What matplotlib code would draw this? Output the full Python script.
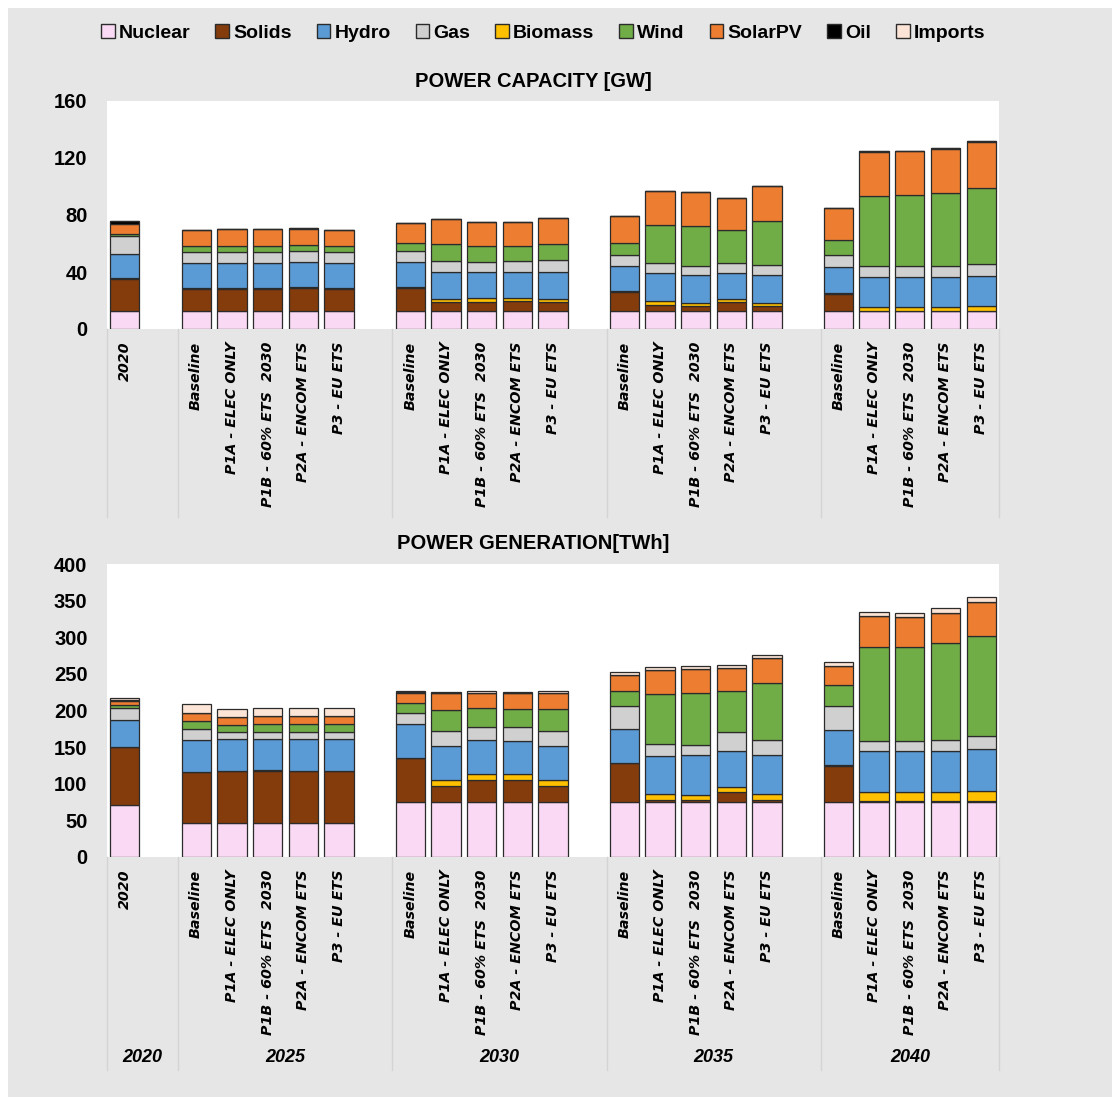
import matplotlib
matplotlib.use("Agg")
import matplotlib.pyplot as plt
from matplotlib.patches import Rectangle, Patch

plt.rcParams['font.family'] = ['Liberation Sans', 'DejaVu Sans']

# fuels, bottom-to-top stacking order
fuels = ['Nuclear', 'Solids', 'Biomass', 'Hydro', 'Gas', 'Wind', 'SolarPV', 'Oil', 'Imports']
legend_order = ['Nuclear', 'Solids', 'Hydro', 'Gas', 'Biomass', 'Wind', 'SolarPV', 'Oil', 'Imports']
colors = {'Nuclear': '#f9d9f3', 'Solids': '#843c0c', 'Hydro': '#5b9bd5', 'Gas': '#d0d0d0',
          'Biomass': '#ffc000', 'Wind': '#70ad47', 'SolarPV': '#ed7d31', 'Oil': '#000000',
          'Imports': '#fce4d6'}

years = ['2020', '2025', '2030', '2035', '2040']
scenarios = ['Baseline', 'P1A - ELEC ONLY', 'P1B - 60% ETS  2030', 'P2A - ENCOM ETS', 'P3 - EU ETS']
bar_labels = ['2020'] + scenarios * 4

# Capacity [GW], one row per bar: 2020, then 5 scenarios for each of 2025..2040
# columns follow `fuels`
capacity = [
    [12.3, 23.0, 0.8, 16.7, 12.4, 1.8, 6.5, 2.0, 0],
    [12.3, 16.0, 0.6, 17.4, 8.0, 4.0, 11.2, 0.3, 0],
    [12.3, 16.0, 0.6, 17.4, 8.0, 4.0, 11.6, 0.3, 0],
    [12.3, 16.0, 0.6, 17.4, 8.0, 4.0, 11.6, 0.3, 0],
    [12.3, 16.7, 0.6, 17.3, 8.0, 4.0, 11.6, 0.4, 0],
    [12.3, 16.0, 0.6, 17.4, 8.0, 4.0, 11.2, 0.3, 0],
    [12.3, 16.7, 0.6, 17.7, 7.5, 5.5, 14.0, 0.3, 0],
    [12.3, 6.9, 1.8, 18.7, 7.7, 12.4, 17.2, 0.3, 0],
    [12.3, 6.9, 2.3, 18.2, 7.5, 11.2, 16.4, 0.3, 0],
    [12.3, 7.1, 2.1, 18.2, 8.2, 10.0, 16.9, 0.3, 0],
    [12.3, 6.9, 1.8, 18.7, 8.9, 11.4, 17.8, 0.3, 0],
    [12.3, 13.7, 0.5, 17.5, 8.0, 8.3, 18.7, 0.3, 0],
    [12.3, 4.7, 2.4, 20.1, 6.5, 26.7, 23.8, 0.3, 0],
    [12.3, 3.6, 2.3, 19.7, 6.5, 27.8, 23.6, 0.3, 0],
    [12.3, 6.7, 2.0, 18.0, 7.5, 22.9, 22.2, 0.3, 0],
    [12.3, 4.1, 1.8, 19.8, 6.9, 30.8, 24.5, 0.3, 0],
    [12.3, 12.0, 0.7, 18.2, 8.4, 11.0, 22.2, 0.3, 0],
    [12.3, 0.6, 2.5, 21.3, 7.2, 49.6, 30.8, 0.3, 0],
    [12.3, 0.6, 2.5, 21.3, 7.7, 49.8, 30.6, 0.3, 0],
    [12.3, 0.6, 2.5, 21.3, 7.7, 51.2, 31.0, 0.3, 0],
    [12.3, 0.6, 3.0, 21.5, 7.9, 53.3, 32.9, 0.3, 0],
]

# Generation [TWh], same layout
generation = [
    [71.0, 78.5, 1.0, 37.2, 15.3, 4.5, 5.5, 2.0, 2.0],
    [46.0, 70.0, 0.5, 43.5, 14.5, 10.5, 11.4, 0.0, 12.2],
    [46.0, 71.0, 0.5, 43.9, 8.6, 10.5, 11.3, 0.0, 10.0],
    [46.0, 71.7, 0.5, 42.8, 9.5, 10.9, 11.3, 0.0, 10.9],
    [46.0, 71.0, 0.5, 43.5, 9.5, 10.9, 11.3, 0.0, 10.9],
    [46.0, 71.0, 0.5, 43.5, 9.5, 10.9, 11.3, 0.0, 10.9],
    [75.0, 60.0, 0.5, 45.9, 15.0, 13.6, 13.6, 1.5, 2.2],
    [75.0, 21.4, 8.1, 46.5, 21.3, 28.7, 22.6, 0.0, 1.4],
    [75.0, 30.5, 7.7, 46.8, 17.3, 25.7, 21.5, 0.0, 1.5],
    [75.0, 30.5, 7.7, 45.8, 17.8, 25.2, 21.6, 0.0, 1.4],
    [75.0, 21.4, 8.1, 47.3, 20.5, 29.7, 21.6, 0.0, 2.4],
    [75.5, 52.5, 1.0, 46.0, 31.0, 20.0, 22.6, 0.0, 4.4],
    [75.5, 2.5, 8.4, 51.6, 16.0, 68.7, 32.8, 0.0, 4.5],
    [75.5, 2.0, 7.5, 54.0, 13.7, 71.8, 31.9, 0.0, 4.6],
    [75.5, 13.1, 6.9, 49.0, 25.5, 57.3, 30.9, 0.0, 4.5],
    [75.5, 2.5, 8.4, 52.6, 21.0, 78.0, 33.0, 0.0, 5.0],
    [75.5, 49.0, 1.5, 46.7, 33.3, 28.5, 26.5, 0.0, 5.8],
    [75.5, 1.5, 11.2, 56.3, 14.5, 128.3, 41.7, 0.0, 6.0],
    [75.5, 1.5, 11.2, 56.3, 13.5, 129.3, 39.7, 0.0, 6.6],
    [75.5, 1.5, 11.2, 56.3, 15.5, 131.8, 41.8, 0.0, 5.9],
    [75.5, 1.5, 13.0, 56.8, 18.7, 136.8, 45.7, 0.0, 6.5],
]

# slot positions: 2020 alone, then blocks of five with an empty slot between
positions = [0] + [start + i for start in (2, 8, 14, 20) for i in range(5)]
separators = [-0.5, 1.5, 7.5, 13.5, 19.5, 24.5]
group_centres = [(separators[i] + separators[i + 1]) / 2 for i in range(5)]

W, H = 1113, 1097
fig = plt.figure(figsize=(W / 100, H / 100), dpi=100)
fig.patch.set_facecolor('white')
fig.patches.append(Rectangle((8 / W, 0), 1104 / W, 1 - 8 / H, transform=fig.transFigure,
                             facecolor='#e6e6e6', edgecolor='none', zorder=-10))


def px_axes(x0, y0, x1, y1):
    return fig.add_axes([x0 / W, 1 - y1 / H, (x1 - x0) / W, (y1 - y0) / H])


def draw_stack(ax, data, ymax, step, sep_depth, show_years):
    bottoms = [0.0] * len(data)
    for j, fuel in enumerate(fuels):
        vals = [row[j] for row in data]
        ax.bar(positions, vals, width=0.82, bottom=bottoms, color=colors[fuel],
               edgecolor='#2b2b2b', linewidth=0.9, zorder=3)
        bottoms = [b + v for b, v in zip(bottoms, vals)]
    ax.set_xlim(-0.5, 24.5)
    ax.set_ylim(0, ymax)
    ax.set_yticks(range(0, ymax + 1, step))
    ax.set_facecolor('white')
    for s in ax.spines.values():
        s.set_visible(False)
    ax.tick_params(axis='y', length=0, pad=14, labelsize=14.5)
    for t in ax.get_yticklabels():
        t.set_fontweight('bold')
    ax.set_xticks(positions)
    ax.set_xticklabels(bar_labels, rotation=90, fontsize=10.3, fontweight='bold',
                       fontstyle='italic', family='DejaVu Sans', va='top', ha='center')
    ax.tick_params(axis='x', length=0, pad=9)
    tr = ax.get_xaxis_transform()
    for x in separators:
        ax.plot([x, x], [0, -sep_depth], transform=tr, clip_on=False,
                color='#d4d4d4', linewidth=1.0, zorder=1)
    if show_years:
        for x, yr in zip(group_centres, years):
            ax.text(x, -0.683, yr, transform=tr, ha='center', va='center',
                    fontsize=13, fontweight='bold', fontstyle='italic')


ax1 = px_axes(107, 101, 999, 329)
draw_stack(ax1, capacity, 160, 40, 0.825, False)
ax2 = px_axes(107, 564, 999, 857)
draw_stack(ax2, generation, 400, 50, 0.727, True)

fig.text(533 / W, 1 - 81 / H, 'POWER CAPACITY [GW]', ha='center', va='center',
         fontsize=14.5, fontweight='bold')
fig.text(533 / W, 1 - 543 / H, 'POWER GENERATION[TWh]', ha='center', va='center',
         fontsize=14.5, fontweight='bold')

handles = [Patch(facecolor=colors[f], edgecolor='#2b2b2b', linewidth=1.0) for f in legend_order]
fig.legend(handles, legend_order, loc='center', bbox_to_anchor=(543 / W, 1 - 33 / H),
           ncol=9, frameon=False, handlelength=0.7, handleheight=0.7,
           handletextpad=0.2, columnspacing=1.3, prop={'weight': 'bold', 'size': 14})

fig.savefig('out.png', dpi=100, facecolor=fig.get_facecolor())
